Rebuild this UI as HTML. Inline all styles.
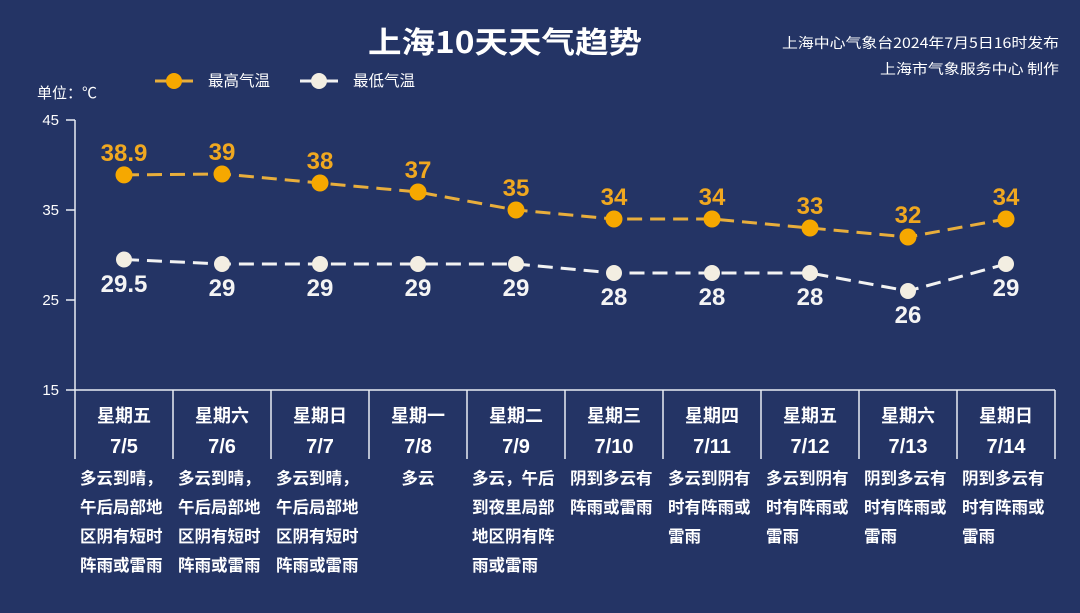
<!DOCTYPE html>
<html><head><meta charset="utf-8"><style>
html,body{margin:0;padding:0;background:#243465;}
svg{display:block;}
text{font-family:"Liberation Sans","Noto Sans CJK SC",sans-serif;}
.cjk{font-family:"Noto Sans CJK SC","WenQuanYi Zen Hei",sans-serif;}
</style></head><body>
<svg width="1080" height="613" viewBox="0 0 1080 613" xmlns="http://www.w3.org/2000/svg">
<rect width="1080" height="613" fill="#243465"/>
<!-- Title -->
<text x="368" y="53" class="cjk" font-size="30" font-weight="bold" fill="#ffffff" textLength="274" lengthAdjust="spacingAndGlyphs">上海10天天气趋势</text>
<text x="1059" y="48" text-anchor="end" class="cjk" font-size="14" fill="#ffffff" textLength="277" lengthAdjust="spacingAndGlyphs">上海中心气象台2024年7月5日16时发布</text>
<text x="1059" y="74" text-anchor="end" class="cjk" font-size="14" fill="#ffffff" textLength="179" lengthAdjust="spacingAndGlyphs">上海市气象服务中心 制作</text>
<!-- Legend -->
<line x1="155" y1="81" x2="193" y2="81" stroke="#e8ae3c" stroke-width="3"/>
<circle cx="174" cy="81" r="8" fill="#f6a800"/>
<text x="208" y="86" class="cjk" font-size="15.5" fill="#ffffff">最高气温</text>
<line x1="300" y1="81" x2="338" y2="81" stroke="#f2f2f2" stroke-width="3"/>
<circle cx="319" cy="81" r="8" fill="#f3eee2"/>
<text x="353" y="86" class="cjk" font-size="15.5" fill="#ffffff">最低气温</text>
<text x="37" y="98" class="cjk" font-size="15" fill="#ffffff">单位：℃</text>
<!-- Axis -->
<g stroke="#e8ecf4" stroke-width="1.5" fill="none">
<line x1="75" y1="120" x2="75" y2="459"/>
<line x1="66" y1="120" x2="75" y2="120"/>
<line x1="66" y1="210" x2="75" y2="210"/>
<line x1="66" y1="300" x2="75" y2="300"/>
<line x1="66" y1="390" x2="1055" y2="390"/>
<line x1="173" y1="390" x2="173" y2="459"/>
<line x1="271" y1="390" x2="271" y2="459"/>
<line x1="369" y1="390" x2="369" y2="459"/>
<line x1="467" y1="390" x2="467" y2="459"/>
<line x1="565" y1="390" x2="565" y2="459"/>
<line x1="663" y1="390" x2="663" y2="459"/>
<line x1="761" y1="390" x2="761" y2="459"/>
<line x1="859" y1="390" x2="859" y2="459"/>
<line x1="957" y1="390" x2="957" y2="459"/>
<line x1="1055" y1="390" x2="1055" y2="459"/>
</g>
<g font-size="15" fill="#ffffff" text-anchor="end">
<text x="59" y="125">45</text>
<text x="59" y="215">35</text>
<text x="59" y="305">25</text>
<text x="59" y="395">15</text>
</g>
<!-- High series -->
<polyline points="124,174.9 222,174 320,183 418,192 516,210 614,219 712,219 810,228 908,237 1006,219" fill="none" stroke="#e8ae3c" stroke-width="3" stroke-dasharray="15,8"/>
<g fill="#f6a800">
<circle cx="124" cy="174.9" r="8.5"/><circle cx="222" cy="174" r="8.5"/><circle cx="320" cy="183" r="8.5"/><circle cx="418" cy="192" r="8.5"/><circle cx="516" cy="210" r="8.5"/><circle cx="614" cy="219" r="8.5"/><circle cx="712" cy="219" r="8.5"/><circle cx="810" cy="228" r="8.5"/><circle cx="908" cy="237" r="8.5"/><circle cx="1006" cy="219" r="8.5"/>
</g>
<g font-size="24" font-weight="bold" fill="#f0a820" text-anchor="middle">
<text x="124" y="161">38.9</text><text x="222" y="160">39</text><text x="320" y="169">38</text><text x="418" y="178">37</text><text x="516" y="196">35</text><text x="614" y="205">34</text><text x="712" y="205">34</text><text x="810" y="214">33</text><text x="908" y="223">32</text><text x="1006" y="205">34</text>
</g>
<!-- Low series -->
<polyline points="124,259.5 222,264 320,264 418,264 516,264 614,273 712,273 810,273 908,291 1006,264" fill="none" stroke="#f2f2f2" stroke-width="3" stroke-dasharray="15,8"/>
<g fill="#f3eee2">
<circle cx="124" cy="259.5" r="8"/><circle cx="222" cy="264" r="8"/><circle cx="320" cy="264" r="8"/><circle cx="418" cy="264" r="8"/><circle cx="516" cy="264" r="8"/><circle cx="614" cy="273" r="8"/><circle cx="712" cy="273" r="8"/><circle cx="810" cy="273" r="8"/><circle cx="908" cy="291" r="8"/><circle cx="1006" cy="264" r="8"/>
</g>
<g font-size="24" font-weight="bold" fill="#f4f4f4" text-anchor="middle">
<text x="124" y="292">29.5</text><text x="222" y="296">29</text><text x="320" y="296">29</text><text x="418" y="296">29</text><text x="516" y="296">29</text><text x="614" y="305">28</text><text x="712" y="305">28</text><text x="810" y="305">28</text><text x="908" y="323">26</text><text x="1006" y="296">29</text>
</g>
<!-- Day names -->
<g class="cjk" font-size="18" font-weight="bold" fill="#ffffff" text-anchor="middle">
<text x="124" y="422">星期五</text><text x="222" y="422">星期六</text><text x="320" y="422">星期日</text><text x="418" y="422">星期一</text><text x="516" y="422">星期二</text><text x="614" y="422">星期三</text><text x="712" y="422">星期四</text><text x="810" y="422">星期五</text><text x="908" y="422">星期六</text><text x="1006" y="422">星期日</text>
</g>
<g font-size="20" font-weight="bold" fill="#ffffff" text-anchor="middle">
<text x="124" y="453">7/5</text><text x="222" y="453">7/6</text><text x="320" y="453">7/7</text><text x="418" y="453">7/8</text><text x="516" y="453">7/9</text><text x="614" y="453">7/10</text><text x="712" y="453">7/11</text><text x="810" y="453">7/12</text><text x="908" y="453">7/13</text><text x="1006" y="453">7/14</text>
</g>
<!-- Descriptions -->
<g class="cjk" font-size="16.5" font-weight="bold" fill="#ffffff">
<text x="80" y="484">多云到晴，</text><text x="80" y="513">午后局部地</text><text x="80" y="542">区阴有短时</text><text x="80" y="571">阵雨或雷雨</text>
<text x="178" y="484">多云到晴，</text><text x="178" y="513">午后局部地</text><text x="178" y="542">区阴有短时</text><text x="178" y="571">阵雨或雷雨</text>
<text x="276" y="484">多云到晴，</text><text x="276" y="513">午后局部地</text><text x="276" y="542">区阴有短时</text><text x="276" y="571">阵雨或雷雨</text>
<text x="418" y="484" text-anchor="middle">多云</text>
<text x="472" y="484">多云，午后</text><text x="472" y="513">到夜里局部</text><text x="472" y="542">地区阴有阵</text><text x="472" y="571">雨或雷雨</text>
<text x="570" y="484">阴到多云有</text><text x="570" y="513">阵雨或雷雨</text>
<text x="668" y="484">多云到阴有</text><text x="668" y="513">时有阵雨或</text><text x="668" y="542">雷雨</text>
<text x="766" y="484">多云到阴有</text><text x="766" y="513">时有阵雨或</text><text x="766" y="542">雷雨</text>
<text x="864" y="484">阴到多云有</text><text x="864" y="513">时有阵雨或</text><text x="864" y="542">雷雨</text>
<text x="962" y="484">阴到多云有</text><text x="962" y="513">时有阵雨或</text><text x="962" y="542">雷雨</text>
</g>
</svg>
</body></html>
